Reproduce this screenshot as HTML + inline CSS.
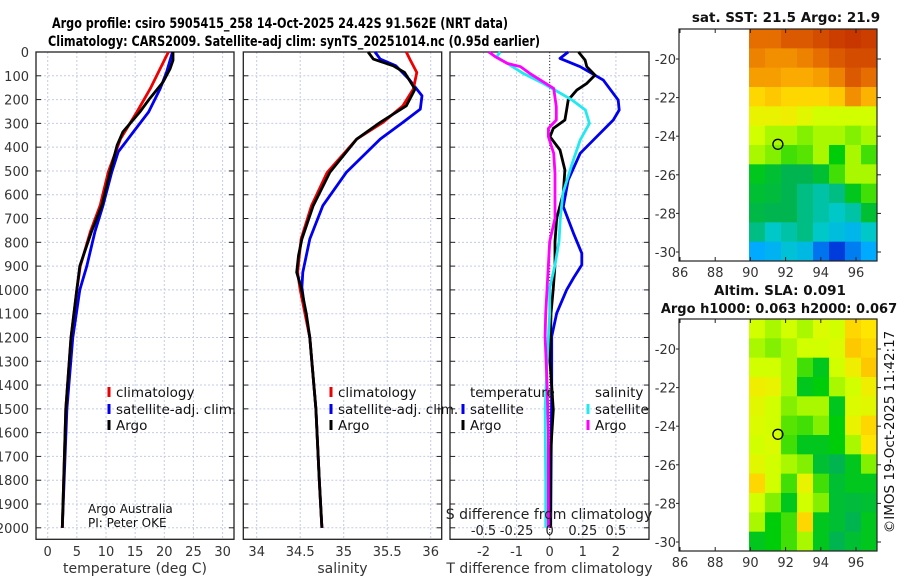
<!DOCTYPE html>
<html><head><meta charset="utf-8"><style>
html,body{margin:0;padding:0;background:#fff;}
svg{display:block;font-family:"DejaVu Sans","Liberation Sans",sans-serif;}
</style></head><body>
<svg id="c" width="900" height="580" viewBox="0 0 900 580" xmlns="http://www.w3.org/2000/svg">
<text x="52" y="28" font-size="14" font-weight="bold" textLength="456" lengthAdjust="spacingAndGlyphs">Argo profile: csiro 5905415_258 14-Oct-2025 24.42S 91.562E (NRT data)</text>
<text x="48" y="46" font-size="14" font-weight="bold" textLength="492" lengthAdjust="spacingAndGlyphs">Climatology: CARS2009. Satellite-adj clim: synTS_20251014.nc (0.95d earlier)</text>
<g id="g"></g>
</svg>
<script>
// ---- data ----
const depthTicks = [0,100,200,300,400,500,600,700,800,900,1000,1100,1200,1300,1400,1500,1600,1700,1800,1900,2000];
const tempTicks = [0,5,10,15,20,25,30];
const salTicks = [34,34.5,35,35.5,36];
const tdiffTicks = [-2,-1,0,1,2];
const sdiffTicks = [-0.5,-0.25,0,0.25,0.5];
const sdiffLabels = ["-0.5","-0.25","0","0.25","0.5"];

const tArgoDepth = [0,35,70,126,196,252,336,392,504,644,756,900,1000,1200,1500,2000];
const tArgoVal   = [21.5,21.5,21.0,19.8,17.5,15.8,12.9,11.9,10.7,9.3,7.5,5.5,5.0,4.0,3.1,2.5];
const tClimDepth = [0,84,154,252,364,504,644,756,900,1000,1200,1500,2000];
const tClimVal   = [20.7,19.0,17.6,15.3,12.5,10.4,9.0,7.3,5.6,5.0,4.0,3.1,2.5];
const tSatDepth  = [0,84,154,252,336,420,504,644,756,900,1000,1200,1500,2000];
const tSatVal    = [21.4,20.4,19.3,17.3,14.7,12.1,11.0,9.5,8.1,6.7,5.5,4.3,3.3,2.5];

const sArgoDepth = [0,30,58,86,156,226,296,366,506,646,786,856,926,989,1100,1200,1500,1800,2000];
const sArgoVal   = [35.28,35.34,35.57,35.70,35.82,35.72,35.42,35.15,34.84,34.65,34.52,34.48,34.46,34.51,34.57,34.61,34.68,34.72,34.75];
const sClimDepth = [0,30,86,156,226,296,366,506,646,786,926,1000,1200,1500,1800,2000];
const sClimVal   = [35.72,35.76,35.84,35.80,35.68,35.45,35.15,34.81,34.63,34.51,34.47,34.5,34.61,34.68,34.72,34.75];
const sSatDepth  = [0,30,58,114,184,240,296,366,506,646,786,926,989,1100,1200,1500,1800,2000];
const sSatVal    = [35.36,35.42,35.60,35.75,35.90,35.88,35.68,35.42,35.03,34.76,34.61,34.53,34.52,34.56,34.61,34.68,34.72,34.75];

const dtArgoDepth = [0,34,62,97,132,160,202,244,286,321,356,412,496,594,699,797,895,993,1099,1300,1504,1700,2000];
const dtArgoVal   = [0.87,1.07,1.12,1.37,1.12,0.82,0.56,0.51,0.46,0.11,0.01,0.31,0.46,0.41,0.21,0.16,0.16,0.11,0.04,0.01,0.11,0.02,0.02];
const dtSatDepth  = [0,27,62,118,202,244,286,356,426,538,650,762,846,895,950,1000,1098,1196,1400,2000];
const dtSatVal    = [0.56,0.31,0.92,1.62,2.07,2.10,1.92,1.42,0.92,0.56,0.41,0.72,0.97,0.97,0.72,0.51,0.21,0.06,0.06,0.03];
const dsSatDepth  = [0,20,48,90,132,160,202,244,300,370,468,594,699,797,895,993,1099,1300,1500,1800,2000];
const dsSatVal    = [-0.375,-0.40,-0.32,-0.20,-0.05,0.04,0.17,0.27,0.30,0.23,0.17,0.10,0.08,0.07,0.04,0.0,0.0,-0.02,-0.035,-0.03,-0.03];
const dsArgoDepth = [0,20,48,62,90,118,153,230,286,321,356,426,510,594,699,797,895,993,1099,1196,1400,1600,2000];
const dsArgoVal   = [-0.46,-0.41,-0.32,-0.22,-0.15,-0.07,0.03,0.05,0.05,-0.01,-0.01,0.03,0.04,0.04,0.04,0.0,-0.01,-0.02,-0.03,-0.035,-0.02,-0.01,-0.01];

const lonTicks = [86,88,90,92,94,96];
const latTicks = [-20,-22,-24,-26,-28,-30];
const sstGrid = [
[.85,.85,.88,.88,.9,.92,.93,.92],
[.82,.8,.8,.82,.85,.88,.9,.9],
[.78,.78,.76,.76,.78,.82,.88,.85],
[.7,.72,.7,.7,.7,.72,.8,.75],
[.65,.65,.66,.64,.62,.62,.62,.62],
[.62,.6,.6,.58,.6,.6,.58,.6],
[.6,.58,.55,.56,.6,.52,.6,.55],
[.5,.48,.45,.45,.48,.55,.6,.6],
[.48,.47,.45,.42,.4,.42,.5,.55],
[.46,.45,.45,.42,.4,.38,.4,.48],
[.42,.38,.4,.42,.38,.35,.33,.38],
[.3,.32,.36,.34,.25,.2,.26,.3]];
const slaGrid = [
[.62,.6,.62,.6,.63,.62,.7,.68],
[.6,.58,.6,.62,.62,.63,.72,.7],
[.62,.62,.6,.55,.5,.62,.66,.72],
[.66,.65,.6,.5,.52,.6,.62,.66],
[.64,.62,.58,.6,.6,.5,.63,.64],
[.63,.62,.56,.55,.58,.52,.65,.7],
[.62,.63,.55,.5,.5,.52,.6,.68],
[.64,.62,.6,.58,.48,.45,.5,.58],
[.7,.62,.55,.65,.55,.48,.5,.5],
[.62,.58,.5,.62,.58,.48,.47,.48],
[.6,.52,.55,.7,.5,.48,.45,.5],
[.5,.52,.55,.6,.5,.45,.48,.5]];
const floatLon = 91.562, floatLat = -24.42;

// ---- drawing ----
const NS="http://www.w3.org/2000/svg";
const G=document.getElementById('g');
function mk(tag,attrs,parent){const e=document.createElementNS(NS,tag);for(const k in attrs)e.setAttribute(k,attrs[k]);(parent||G).appendChild(e);return e;}
const Y0=52,YB=539.3,KY=0.2379;
const yD=d=>Y0+KY*d;
const panels=[
 {x0:36,x1:234,fx:v=>47.7+5.83*v,ticks:tempTicks,lab:tempTicks.map(String),title:"temperature (deg C)",name:"temperature-panel"},
 {x0:243.3,x1:441.7,fx:v=>256.7+87*(v-34),ticks:salTicks,lab:["34","34.5","35","35.5","36"],title:"salinity",name:"salinity-panel"},
 {x0:450,x1:649,fx:v=>549.7+33.1*v,ticks:tdiffTicks,lab:tdiffTicks.map(String),title:"T difference from climatology",name:"difference-panel"}];
const fS=v=>549.7+132.4*v;

panels.forEach((p,pi)=>{
 const pg=mk('g',{});
 
 
 depthTicks.forEach(d=>{
  const l=mk('line',{x1:p.x0,x2:p.x1,y1:yD(d),y2:yD(d),stroke:'#c4cbe8','stroke-width':1,'stroke-dasharray':'2,2'},pg);
  
  
  mk('line',{x1:p.x0,x2:p.x0+5,y1:yD(d),y2:yD(d),stroke:'#222'},pg);
  mk('line',{x1:p.x1-5,x2:p.x1,y1:yD(d),y2:yD(d),stroke:'#222'},pg);
 });
 p.ticks.forEach((v,i)=>{
  const x=p.fx(v);
  const l=mk('line',{x1:x,x2:x,y1:Y0,y2:YB,stroke:'#c4cbe8','stroke-width':1,'stroke-dasharray':'2,2'},pg);
  
  
  const t=mk('text',{x:x,y:556,'font-size':13,'text-anchor':'middle',fill:'#333'},pg);
  t.textContent=p.lab[i];
  
  
 });
 const tt=mk('text',{x:(p.x0+p.x1)/2,y:573,'font-size':14,'text-anchor':'middle',fill:'#333'},pg);
 tt.textContent=p.title;
 
 
 const r=mk('rect',{x:p.x0,y:Y0,width:p.x1-p.x0,height:YB-Y0,fill:'none',stroke:'#222','stroke-width':1.3},pg);
 
 
});
depthTicks.forEach(d=>{
 const t=mk('text',{x:29,y:yD(d)+5,'font-size':13,'text-anchor':'end',fill:'#333'});
 t.textContent=String(d);
 
 
});

function line(ds,vs,fx,color,name,w){
 const pts=ds.map((d,i)=>fx(vs[i]).toFixed(1)+','+yD(d).toFixed(1)).join(' ');
 const e=mk('polyline',{points:pts,fill:'none',stroke:color,'stroke-width':w||2.8,'stroke-linejoin':'round'});
 
 
}
const p1=panels[0].fx,p2=panels[1].fx,p3=panels[2].fx;
line(tSatDepth,tSatVal,p1,'#0000ee','temp-satellite-line');
line(tClimDepth,tClimVal,p1,'#ee0000','temp-climatology-line');
line(tArgoDepth,tArgoVal,p1,'#000','temp-argo-line');
line(sSatDepth,sSatVal,p2,'#0000ee','sal-satellite-line');
line(sClimDepth,sClimVal,p2,'#ee0000','sal-climatology-line');
line(sArgoDepth,sArgoVal,p2,'#000','sal-argo-line');
const zl=mk('line',{x1:549.7,x2:549.7,y1:Y0,y2:YB,stroke:'#333','stroke-width':1,'stroke-dasharray':'1,2'});


line(dtSatDepth,dtSatVal,p3,'#0000ee','dT-satellite-line');
line(dtArgoDepth,dtArgoVal,p3,'#000','dT-argo-line');
line(dsSatDepth,dsSatVal,fS,'#22e8f0','dS-satellite-line');
line(dsArgoDepth,dsArgoVal,fS,'#ff00ff','dS-argo-line');

const st=mk('text',{x:549,y:519,'font-size':14,'text-anchor':'middle',fill:'#222'});
st.textContent='S difference from climatology';


sdiffTicks.forEach((v,i)=>{
 const t=mk('text',{x:fS(v),y:535,'font-size':13,'text-anchor':'middle',fill:'#222'});
 t.textContent=sdiffLabels[i];
 
 
});

function leg(x,y,color,label){
 const g=mk('g',{});
 
 
 mk('rect',{x:x-1.5,y:y-10,width:3,height:10,fill:color},g);
 const t=mk('text',{x:x+7,y:y,'font-size':13.5,fill:'#111'},g);
 t.textContent=label;
}
leg(109,397,'#ee0000','climatology');leg(109,414,'#0000ee','satellite-adj. clim.');leg(109,430,'#000','Argo');
leg(331,397,'#ee0000','climatology');leg(331,414,'#0000ee','satellite-adj. clim.');leg(331,430,'#000','Argo');
const lt=mk('text',{x:470,y:397,'font-size':13.5,fill:'#111'});lt.textContent='temperature';

const ls=mk('text',{x:595,y:397,'font-size':13.5,fill:'#111'});ls.textContent='salinity';

leg(463,414,'#0000ee','satellite');leg(463,430,'#000','Argo');
leg(588,414,'#22e8f0','satellite');leg(588,430,'#ff00ff','Argo');
const a1=mk('text',{x:88,y:513,'font-size':12,fill:'#111'});a1.textContent='Argo Australia';

const a2=mk('text',{x:88,y:527,'font-size':12,fill:'#111'});a2.textContent='PI: Peter OKE';


const cmapStops=[[0.2,[0,60,220]],[0.3,[0,170,255]],[0.38,[0,200,200]],[0.45,[0,180,80]],[0.52,[0,205,10]],[0.58,[130,240,0]],[0.62,[210,255,0]],[0.68,[255,230,0]],[0.76,[250,170,0]],[0.85,[230,110,0]],[0.93,[200,55,0]]];
function cmap(v){
 if(v<=cmapStops[0][0])return `rgb(${cmapStops[0][1].join(',')})`;
 for(let i=1;i<cmapStops.length;i++){
  if(v<=cmapStops[i][0]){
   const [a,ca]=cmapStops[i-1],[b,cb]=cmapStops[i];const t=(v-a)/(b-a);
   return `rgb(${ca.map((c,k)=>Math.round(c+(cb[k]-c)*t)).join(',')})`;
  }
 }
 return `rgb(${cmapStops[cmapStops.length-1][1].join(',')})`;
}
function map(top,grid,name){
 const x0=679,x1=877,bot=top+232;
 const fx=lon=>680+17.6*(lon-86);
 const fy=lat=>top+30+19.3*(-20-lat);
 const mg=mk('g',{});
 
 
 const cw=(x1-749)/grid[0].length, ch=(bot-top)/grid.length;
 grid.forEach((row,r)=>row.forEach((v,c)=>{
  mk('rect',{x:749+c*cw,y:top+r*ch,width:cw+0.5,height:ch+0.5,fill:cmap(v)},mg);
 }));
 lonTicks.forEach(l=>{
  mk('line',{x1:fx(l),x2:fx(l),y1:bot,y2:bot-4,stroke:'#222'},mg);
  mk('line',{x1:fx(l),x2:fx(l),y1:top,y2:top+4,stroke:'#222'},mg);
  const t=mk('text',{x:fx(l),y:bot+16,'font-size':13,'text-anchor':'middle',fill:'#333'},mg);
  t.textContent=String(l);
 });
 latTicks.forEach(l=>{
  mk('line',{x1:x1,x2:x1+4,y1:fy(l),y2:fy(l),stroke:'#222'},mg);
  mk('line',{x1:x0,x2:x0-3,y1:fy(l),y2:fy(l),stroke:'#222'},mg);
  const t=mk('text',{x:x0-3,y:fy(l)+5,'font-size':13,'text-anchor':'end',fill:'#333'},mg);
  t.textContent=String(l);
 });
 mk('rect',{x:x0,y:top,width:x1-x0,height:bot-top,fill:'none',stroke:'#222','stroke-width':1.2},mg);
 const m=mk('circle',{cx:fx(floatLon),cy:fy(floatLat),r:5,fill:'none',stroke:'#000','stroke-width':1.3},mg);
 
 
}
map(29,sstGrid,'sst-map');
map(319,slaGrid,'sla-map');
function txt(x,y,s,name,extra){const t=mk('text',Object.assign({x:x,y:y,'font-size':13.5,'font-weight':'bold','text-anchor':'middle',fill:'#111'},extra||{}));t.textContent=s;
 }
txt(786,22,'sat. SST: 21.5 Argo: 21.9','sst-map-title');
txt(780,295,'Altim. SLA: 0.091','sla-map-title');
txt(779,313,'Argo h1000: 0.063 h2000: 0.067','sla-map-subtitle',{'font-size':13});
const v=mk('text',{x:0,y:0,'font-size':13.5,'text-anchor':'middle',fill:'#111',transform:'translate(894,432) rotate(-90)'});
v.textContent='©IMOS 19-Oct-2025 11:42:17';


</script>
</body></html>
